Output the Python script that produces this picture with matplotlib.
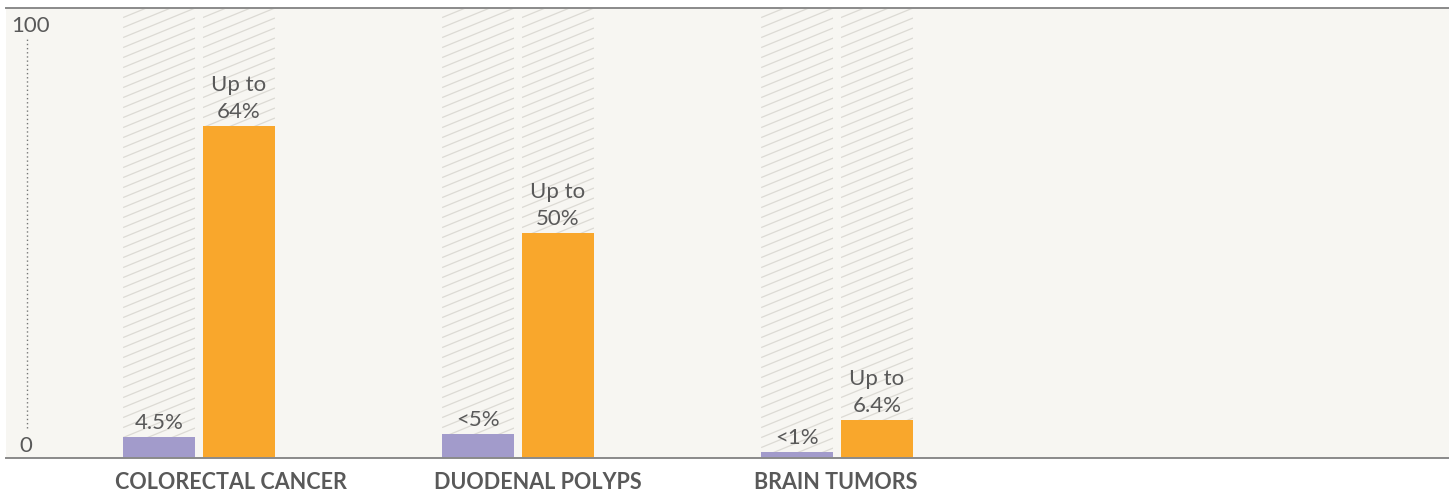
import matplotlib
matplotlib.use('Agg')
import matplotlib.pyplot as plt
import numpy as np
from matplotlib.patches import Rectangle
from matplotlib.collections import LineCollection

# data (bar heights as drawn, labels as printed)
categories = ['COLORECTAL CANCER', 'DUODENAL POLYPS', 'BRAIN TUMORS']
general_heights = [4.7, 5.3, 1.3]
general_labels = ['4.5%', '<5%', '<1%']
carrier_heights = [73.8, 50.0, 8.4]
carrier_labels = ['Up to\n64%', 'Up to\n50%', 'Up to\n6.4%']

purple = '#a29bcb'
orange = '#f9a72c'
text_grey = '#595959'
bg = '#f7f6f2'

plt.rcParams['font.family'] = ['Lato', 'DejaVu Sans']

fig = plt.figure(figsize=(14.49, 5.04), dpi=100)
ax = fig.add_axes([6 / 1449, 46 / 504, 1443 / 1449, 450 / 504])
ax.set_facecolor(bg)

x = np.arange(len(categories))
offset = 0.125
width = 0.226
ax.set_xlim(-0.605, 3.918)
ax.set_ylim(0, 100)

# hatched background columns behind every bar
px_x = 1443 / (3.918 + 0.605)
px_y = 450 / 100
slope = 0.41 * px_x / px_y
step = 10 / px_y
for c in np.concatenate([x - offset, x + offset]):
    x0, x1 = c - width / 2, c + width / 2
    clip = Rectangle((x0, 0), width, 100, facecolor='none', edgecolor='none')
    ax.add_patch(clip)
    segs = [[(x0, b), (x1, b + slope * width)]
            for b in np.arange(-slope * width, 100 + step, step)]
    lc = LineCollection(segs, colors='#dcdad4', linewidths=0.9, zorder=1)
    ax.add_collection(lc)
    lc.set_clip_path(clip)

bars1 = ax.bar(x - offset, general_heights, width, color=purple, zorder=2)
bars2 = ax.bar(x + offset, carrier_heights, width, color=orange, zorder=2)

for bars, labels in [(bars1, general_labels), (bars2, carrier_labels)]:
    for b, lab in zip(bars, labels):
        ax.annotate(lab, (b.get_x() + b.get_width() / 2, b.get_height()),
                    xytext=(0, 6), textcoords='offset points', ha='center',
                    va='baseline', fontsize=16, color=text_grey, linespacing=1.4)

# category names under the axis
for xi, cat in zip(x, categories):
    ax.text(xi - 0.262, -0.069, cat, transform=ax.get_xaxis_transform(),
            ha='left', va='baseline', fontsize=15.5, fontweight='bold',
            color=text_grey)

# hand-made y scale
ax.plot([0.01455, 0.01455], [0.0667, 0.931], transform=ax.transAxes,
        color='#777777', lw=1.0, ls=(0, (1, 2)), clip_on=False)
ax.text(0.0173, 0.9473, '100', transform=ax.transAxes, ha='center',
        va='baseline', fontsize=16, color=text_grey)
ax.text(0.01386, 0.0133, '0', transform=ax.transAxes, ha='center',
        va='baseline', fontsize=16, color=text_grey)

ax.set_xticks([])
ax.set_yticks([])
for side in ['left', 'right']:
    ax.spines[side].set_visible(False)
for side in ['top', 'bottom']:
    ax.spines[side].set_color('#8a8a8a')
    ax.spines[side].set_linewidth(1.4)

fig.savefig('out.png', dpi=100, facecolor='white')
